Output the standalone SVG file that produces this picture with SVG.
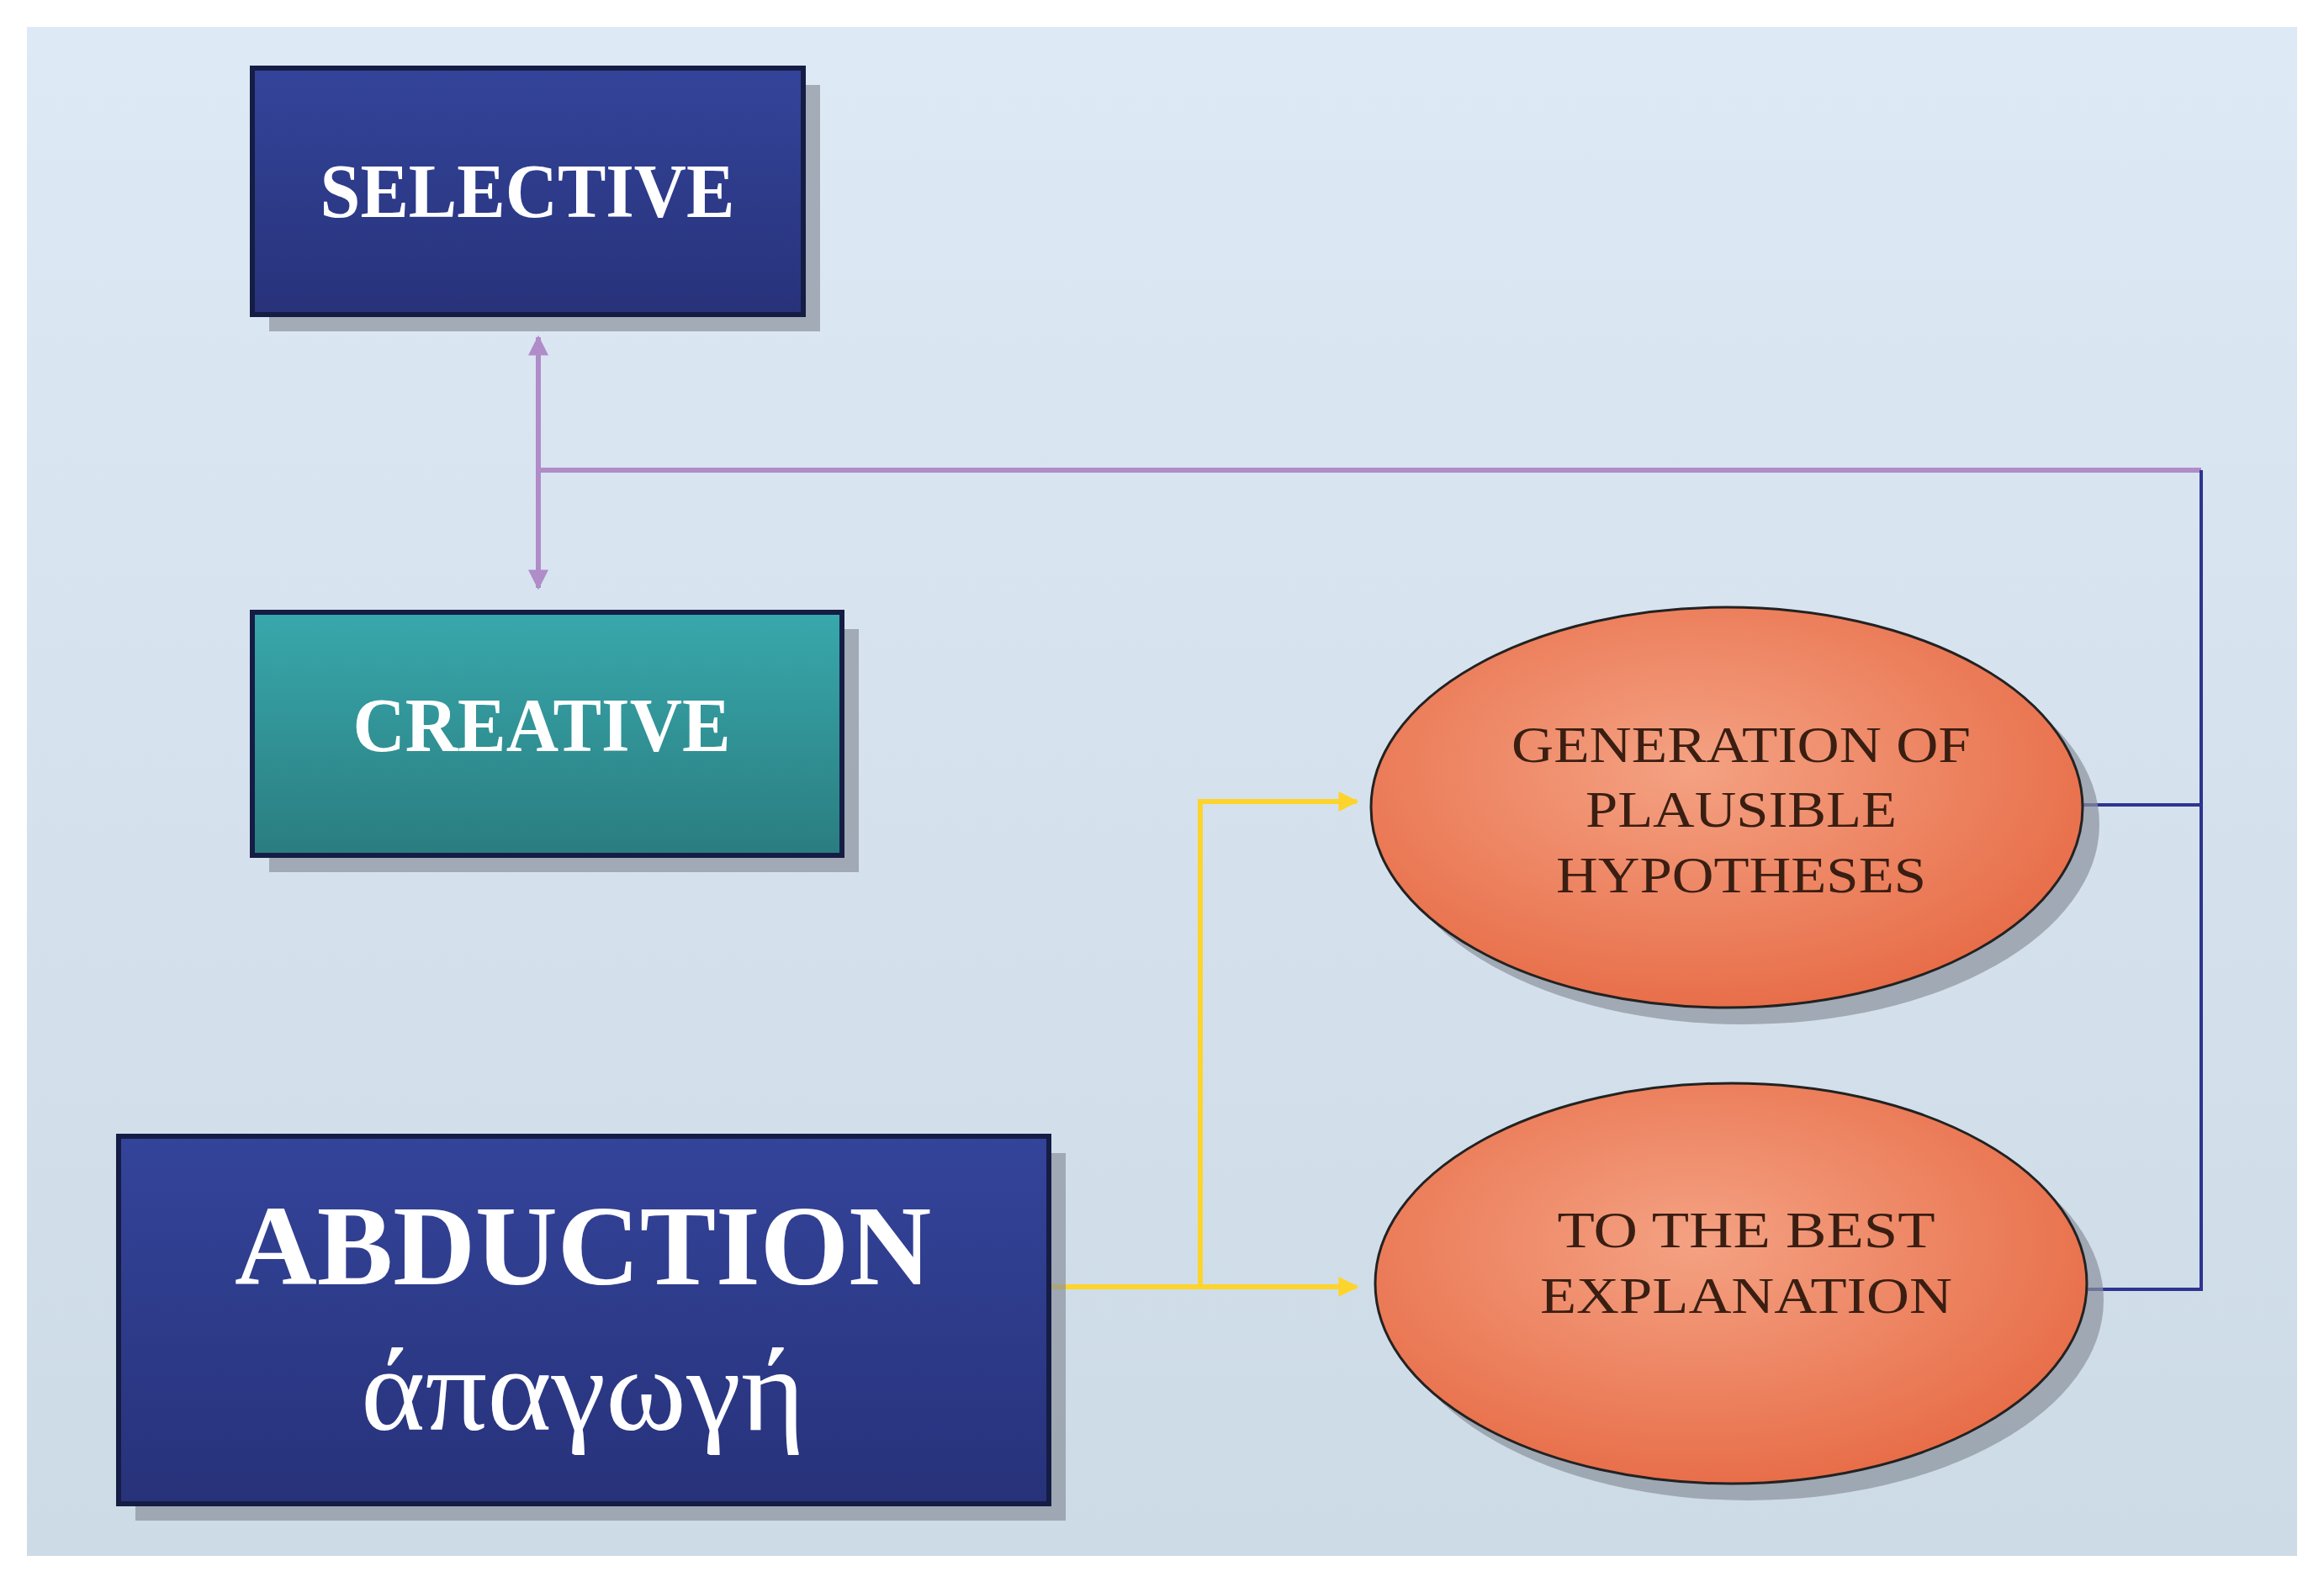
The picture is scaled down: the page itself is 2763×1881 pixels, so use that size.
<svg xmlns="http://www.w3.org/2000/svg" width="2763" height="1881" viewBox="0 0 2763 1881">
<defs>
<linearGradient id="bg" x1="0" y1="0" x2="0" y2="1"><stop offset="0" stop-color="#dde9f5"/><stop offset="1" stop-color="#cddbe6"/></linearGradient>
<linearGradient id="blue" x1="0" y1="0" x2="0" y2="1"><stop offset="0" stop-color="#34449a"/><stop offset="1" stop-color="#27327a"/></linearGradient>
<linearGradient id="teal" x1="0" y1="0" x2="0" y2="1"><stop offset="0" stop-color="#38a8ac"/><stop offset="1" stop-color="#2a7d80"/></linearGradient>
<radialGradient id="org" cx="0.45" cy="0.4" r="0.65"><stop offset="0" stop-color="#f4a283"/><stop offset="1" stop-color="#e76a45"/></radialGradient>
<marker id="py" viewBox="0 0 10 10" refX="9" refY="5" markerWidth="4" markerHeight="4" orient="auto"><path d="M0,0L10,5L0,10z" fill="#fdd42b"/></marker>
<marker id="pp" viewBox="0 0 10 10" refX="9" refY="5" markerWidth="4" markerHeight="4" orient="auto-start-reverse"><path d="M0,0L10,5L0,10z" fill="#b08cc8"/></marker>
</defs>
<style>
.sh{fill:#8a929c;opacity:0.7}
.bx{stroke:#151d45;stroke-width:6}
.w{fill:#fff;font-family:"Liberation Serif",serif;font-weight:bold;text-anchor:middle}
.e{fill:#3a1e12;font-family:"Liberation Serif",serif;font-size:62px;text-anchor:middle}
</style>
<rect x="32" y="32" width="2699" height="1818" fill="url(#bg)"/>
<g id="connectors" fill="none">
<line x1="640" y1="401" x2="640" y2="699" stroke="#b08cc8" stroke-width="6" marker-start="url(#pp)" marker-end="url(#pp)"/>
<polyline points="640,559 2617,559" stroke="#b08cc8" stroke-width="6"/>
<polyline points="2617,559 2617,1533 2481,1533" stroke="#2e3490" stroke-width="4"/>
<line x1="2476" y1="957" x2="2617" y2="957" stroke="#2e3490" stroke-width="4"/>
<polyline points="1247,1530 1427,1530 1427,953 1613,953" stroke="#fdd42b" stroke-width="6" marker-end="url(#py)"/>
<line x1="1427" y1="1530" x2="1613" y2="1530" stroke="#fdd42b" stroke-width="6" marker-end="url(#py)"/>
</g>
<g id="selective">
<rect class="sh" x="320" y="101" width="655" height="293"/>
<rect class="bx" x="300" y="81" width="655" height="293" fill="url(#blue)"/>
<text class="w" x="627" y="258" font-size="90" textLength="493" lengthAdjust="spacingAndGlyphs">SELECTIVE</text>
</g>
<g id="creative">
<rect class="sh" x="320" y="748" width="701" height="289"/>
<rect class="bx" x="300" y="728" width="701" height="289" fill="url(#teal)"/>
<text class="w" x="644" y="893" font-size="90" textLength="449" lengthAdjust="spacingAndGlyphs">CREATIVE</text>
</g>
<g id="abduction">
<rect class="sh" x="161" y="1371" width="1106" height="437"/>
<rect class="bx" x="141" y="1351" width="1106" height="437" fill="url(#blue)"/>
<text class="w" x="693" y="1527" font-size="135" textLength="828" lengthAdjust="spacingAndGlyphs">ABDUCTION</text>
<text x="693" y="1700" fill="#fff" font-family="Liberation Serif,serif" font-size="140" text-anchor="middle" textLength="528" lengthAdjust="spacingAndGlyphs">άπαγωγή</text>
</g>
<g id="generation">
<ellipse cx="2073" cy="980" rx="423" ry="238" class="sh"/>
<ellipse cx="2053" cy="960" rx="423" ry="238" fill="url(#org)" stroke="#222" stroke-width="3"/>
<text class="e" x="2070" y="906" textLength="546" lengthAdjust="spacingAndGlyphs">GENERATION OF</text>
<text class="e" x="2070" y="983" textLength="370" lengthAdjust="spacingAndGlyphs">PLAUSIBLE</text>
<text class="e" x="2070" y="1061" textLength="440" lengthAdjust="spacingAndGlyphs">HYPOTHESES</text>
</g>
<g id="best">
<ellipse cx="2078" cy="1546" rx="423" ry="238" class="sh"/>
<ellipse cx="2058" cy="1526" rx="423" ry="238" fill="url(#org)" stroke="#222" stroke-width="3"/>
<text class="e" x="2076" y="1483" textLength="449" lengthAdjust="spacingAndGlyphs">TO THE BEST</text>
<text class="e" x="2076" y="1561" textLength="490" lengthAdjust="spacingAndGlyphs">EXPLANATION</text>
</g>
</svg>
